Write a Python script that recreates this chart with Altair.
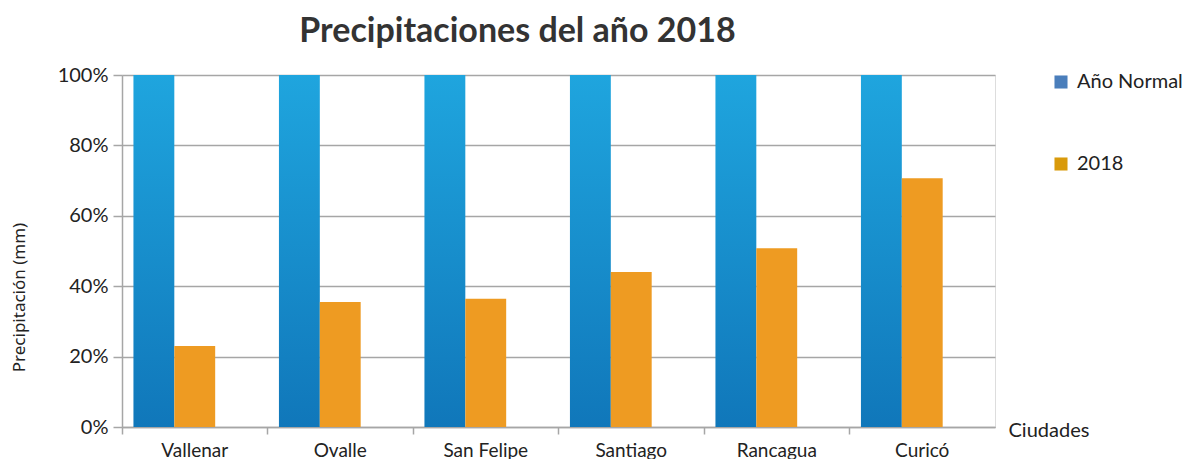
import altair as alt
import pandas as pd

ciudades = ["Vallenar", "Ovalle", "San Felipe", "Santiago", "Rancagua", "Curicó"]
ano_normal = [1.0, 1.0, 1.0, 1.0, 1.0, 1.0]
valores_2018 = [0.23, 0.355, 0.364, 0.44, 0.508, 0.707]
series = ["Año Normal", "2018"]
y_ticks = [0, 0.2, 0.4, 0.6, 0.8, 1.0]

df_normal = pd.DataFrame({"ciudad": ciudades, "valor": ano_normal, "serie": series[0]})
df_2018 = pd.DataFrame({"ciudad": ciudades, "valor": valores_2018, "serie": series[1]})
df_leg = pd.DataFrame({"serie": series})

GRAY = "#a6a6a6"
offset_domain = ["Año Normal", "2018", "_"]

x_enc = alt.X("ciudad:N", sort=ciudades,
              scale=alt.Scale(paddingInner=0, paddingOuter=0),
              axis=alt.Axis(title="Ciudades", labelAngle=0, labelFont="Lato",
                            labelFontSize=19, labelColor="#222222", labelPadding=7,
                            tickSize=7, tickColor=GRAY, tickWidth=1.5, bandPosition=0,
                            domainColor=GRAY, domainWidth=1.5,
                            titleFont="Lato", titleFontSize=20, titleFontWeight="normal",
                            titleColor="#222222", titleAlign="left", titleBaseline="middle",
                            titleX=886, titleY=3, grid=False))
y_enc = alt.Y("valor:Q", scale=alt.Scale(domain=[0, 1]),
              axis=alt.Axis(title="Precipitación (mm)", format=".0%", values=y_ticks,
                            labelFont="Lato", labelFontSize=20, labelColor="#222222",
                            labelPadding=5, tickSize=9, tickColor=GRAY, tickWidth=1.5,
                            domainColor=GRAY, domainWidth=1.5, gridColor=GRAY, gridWidth=1.5,
                            titleFont="Noto Sans", titleFontSize=17, titleFontWeight="normal",
                            titleColor="#222222", titleX=-103, titleY=222, titleAngle=-90,
                            titleAlign="center", titleBaseline="middle"))
xo_enc = alt.XOffset("serie:N", scale=alt.Scale(domain=offset_domain, paddingOuter=0.28, paddingInner=0))

blue_grad = alt.Gradient(gradient="linear",
                         stops=[alt.GradientStop(color="#1fa5de", offset=0),
                                alt.GradientStop(color="#1077ba", offset=1)],
                         x1=0, x2=0, y1=0, y2=1)

bars_normal = alt.Chart(df_normal).mark_bar(color=blue_grad).encode(x=x_enc, y=y_enc, xOffset=xo_enc)
bars_2018 = alt.Chart(df_2018).mark_bar(color="#ee9b22").encode(x=x_enc, y=y_enc, xOffset=xo_enc)

legend_layer = alt.Chart(df_leg).mark_square(opacity=1).encode(
    color=alt.Color("serie:N", scale=alt.Scale(domain=series, range=["#4a7ebb", "#d99a0b"]),
                    legend=alt.Legend(title=None, orient="none", legendX=929, legendY=-3,
                                      symbolType="square", symbolSize=170, symbolStrokeWidth=0,
                                      labelFont="Lato", labelFontSize=20, labelColor="#222222",
                                      labelOffset=6, rowPadding=62, labelLimit=400))
).transform_filter("datum.serie == 'none'")

chart = alt.layer(bars_normal, bars_2018, legend_layer).properties(
    width=873, height=352,
    title=alt.TitleParams("Precipitaciones del año 2018", font="Lato", fontSize=34,
                          fontWeight="bold", color="#333333", dx=-41, offset=16),
    autosize=alt.AutoSizeParams(type="none"),
    padding={"left": 114, "top": 67, "right": 197, "bottom": 32},
).configure_view(stroke=None).configure(background="white")

chart.save("out.html", embed_options={"renderer": "svg", "actions": False})
